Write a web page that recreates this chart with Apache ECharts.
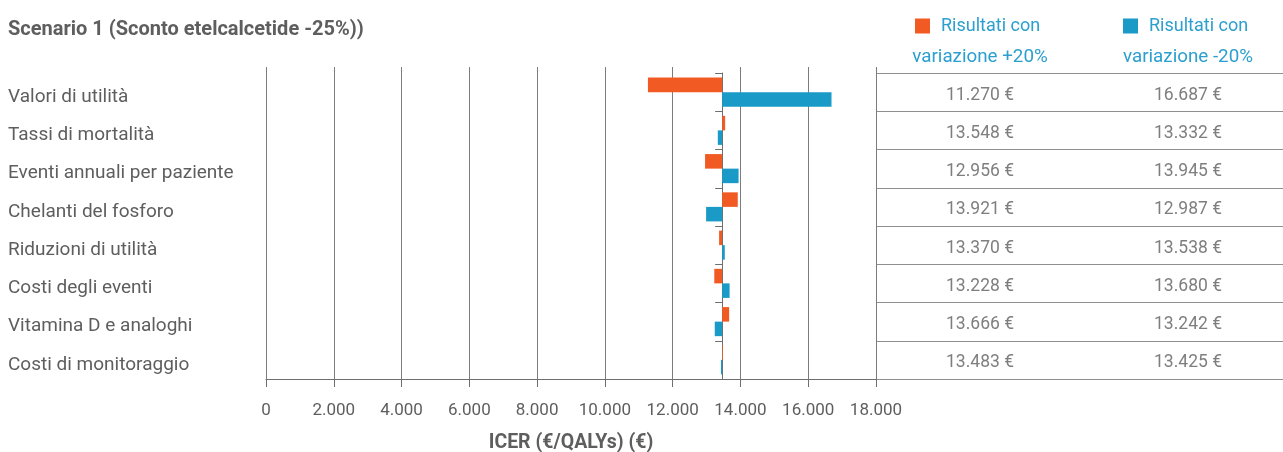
<!DOCTYPE html>
<html>
<head>
<meta charset="utf-8">
<script src="https://cdn.jsdelivr.net/npm/echarts@6/dist/echarts.min.js"></script>
<style>html,body{margin:0;padding:0;background:#fff}#c{width:1283px;height:452px}</style>
</head>
<body>
<div id="c"></div>
<script>
const title = 'Scenario 1 (Sconto etelcalcetide -25%))';
const categories = ['Valori di utilità','Tassi di mortalità','Eventi annuali per paziente','Chelanti del fosforo','Riduzioni di utilità','Costi degli eventi','Vitamina D e analoghi','Costi di monitoraggio'];
const plus20 = [11270, 13548, 12956, 13921, 13370, 13228, 13666, 13483];
const minus20 = [16687, 13332, 13945, 12987, 13538, 13680, 13242, 13425];
const baseICER = 13460;
const xMin = 0, xMax = 18000, xStep = 2000;
const nameP = 'Risultati con variazione +20%';
const nameM = 'Risultati con variazione -20%';
const columns = ['variazione +20%', 'variazione -20%'];
const axisName = 'ICER (€/QALYs) (€)';

const FONT = 'Roboto, "Noto Sans", sans-serif';
const ORANGE = '#f15a22', BLUE = '#1a9ac6';
const TXT = '#5e5e5e', LEG = '#2b9fcf';
const fmt = v => String(Math.round(v)).replace(/\B(?=(\d{3})+(?!\d))/g, '.');

const chart = echarts.init(document.getElementById('c'), null, {renderer: 'canvas'});
chart.setOption({
  animation: false,
  backgroundColor: '#fff',
  textStyle: {fontFamily: FONT},
  title: {
    text: title, left: 8, top: 20, padding: 0,
    textStyle: {fontFamily: FONT, fontSize: 20, fontWeight: 'bold', color: TXT}
  },
  legend: [
    {data: [nameP], left: 915, top: 17, padding: 0, itemWidth: 15, itemHeight: 15, icon: 'rect', itemGap: 0,
     formatter: () => 'Risultati con', selectedMode: false,
     textStyle: {fontFamily: FONT, fontSize: 18, color: LEG, padding: [0, 0, 0, 6]}},
    {data: [nameM], left: 1123, top: 17, padding: 0, itemWidth: 15, itemHeight: 15, icon: 'rect', itemGap: 0,
     formatter: () => 'Risultati con', selectedMode: false,
     textStyle: {fontFamily: FONT, fontSize: 18, color: LEG, padding: [0, 0, 0, 6]}}
  ],
  grid: [
    {left: 266, right: 407, top: 73, bottom: 73, outerBoundsMode: 'none', containLabel: false},
    {left: 876, width: 416, top: 73, bottom: 73, outerBoundsMode: 'none', containLabel: false}
  ],
  xAxis: [
    {type: 'value', gridIndex: 0, min: xMin, max: xMax, interval: xStep, position: 'bottom',
     axisLine: {show: true, onZero: false, lineStyle: {color: '#6f6f6f', width: 1}},
     axisTick: {show: true, length: 8, lineStyle: {color: '#6f6f6f'}},
     splitLine: {show: true, lineStyle: {color: '#7c7c7c', width: 1}},
     axisLabel: {formatter: fmt, fontSize: 17, color: TXT, margin: 23, fontFamily: FONT},
     name: axisName, nameLocation: 'middle', nameGap: 54,
     nameTextStyle: {fontFamily: FONT, fontSize: 19.5, fontWeight: 'bold', color: TXT}},
    {type: 'value', gridIndex: 0, min: xMin - baseICER, max: xMax - baseICER, position: 'bottom',
     axisLine: {show: false}, axisTick: {show: false}, splitLine: {show: false}, axisLabel: {show: false}},
    {type: 'value', gridIndex: 0, min: xMin, max: xMax, interval: xStep, position: 'top',
     axisLine: {show: false}, axisTick: {show: true, length: 6, lineStyle: {color: '#7c7c7c'}},
     splitLine: {show: false}, axisLabel: {show: false}},
    {type: 'category', gridIndex: 1, data: columns, position: 'top',
     axisLine: {show: false}, axisTick: {show: false},
     axisLabel: {show: true, color: LEG, fontSize: 18.8, margin: 6, fontFamily: FONT}}
  ],
  yAxis: [
    {type: 'category', gridIndex: 0, data: categories, inverse: true,
     axisLine: {show: true, onZero: true, onZeroAxisIndex: 1, lineStyle: {color: '#6f6f6f', width: 1}},
     axisTick: {show: true, length: 7, lineStyle: {color: '#6f6f6f'}},
     axisLabel: {show: false}, splitLine: {show: false}},
    {type: 'category', gridIndex: 0, data: categories, inverse: true, position: 'left',
     axisLine: {show: false, onZero: false}, axisTick: {show: false},
     axisLabel: {show: true, align: 'left', verticalAlign: 'top', lineHeight: 10, margin: 258,
                 fontSize: 19, color: TXT, fontFamily: FONT}},
    {type: 'category', gridIndex: 1, data: categories, inverse: true,
     axisLine: {show: true, onZero: false, lineStyle: {color: '#7c7c7c'}}, axisTick: {show: false},
     axisLabel: {show: false},
     splitLine: {show: true, lineStyle: {color: '#8f8f8f', width: 1}}}
  ],
  series: [
    {name: nameP, type: 'bar', xAxisIndex: 1, yAxisIndex: 0, data: plus20.map(v => v - baseICER),
     itemStyle: {color: ORANGE}, barGap: '0%', barCategoryGap: '24%', silent: true},
    {name: nameM, type: 'bar', xAxisIndex: 1, yAxisIndex: 0, data: minus20.map(v => v - baseICER),
     itemStyle: {color: BLUE}, barGap: '0%', barCategoryGap: '24%', silent: true},
    {name: 'tabP', type: 'scatter', xAxisIndex: 3, yAxisIndex: 2, symbolSize: 0, silent: true,
     data: plus20.map((v, i) => [0, i, v]),
     label: {show: true, position: 'inside', formatter: p => fmt(p.value[2]) + ' €', fontSize: 17.5, color: TXT,
             fontFamily: FONT, offset: [0, 3]}},
    {name: 'tabM', type: 'scatter', xAxisIndex: 3, yAxisIndex: 2, symbolSize: 0, silent: true,
     data: minus20.map((v, i) => [1, i, v]),
     label: {show: true, position: 'inside', formatter: p => fmt(p.value[2]) + ' €', fontSize: 17.5, color: TXT,
             fontFamily: FONT, offset: [0, 3]}}
  ]
});
</script>
</body>
</html>
